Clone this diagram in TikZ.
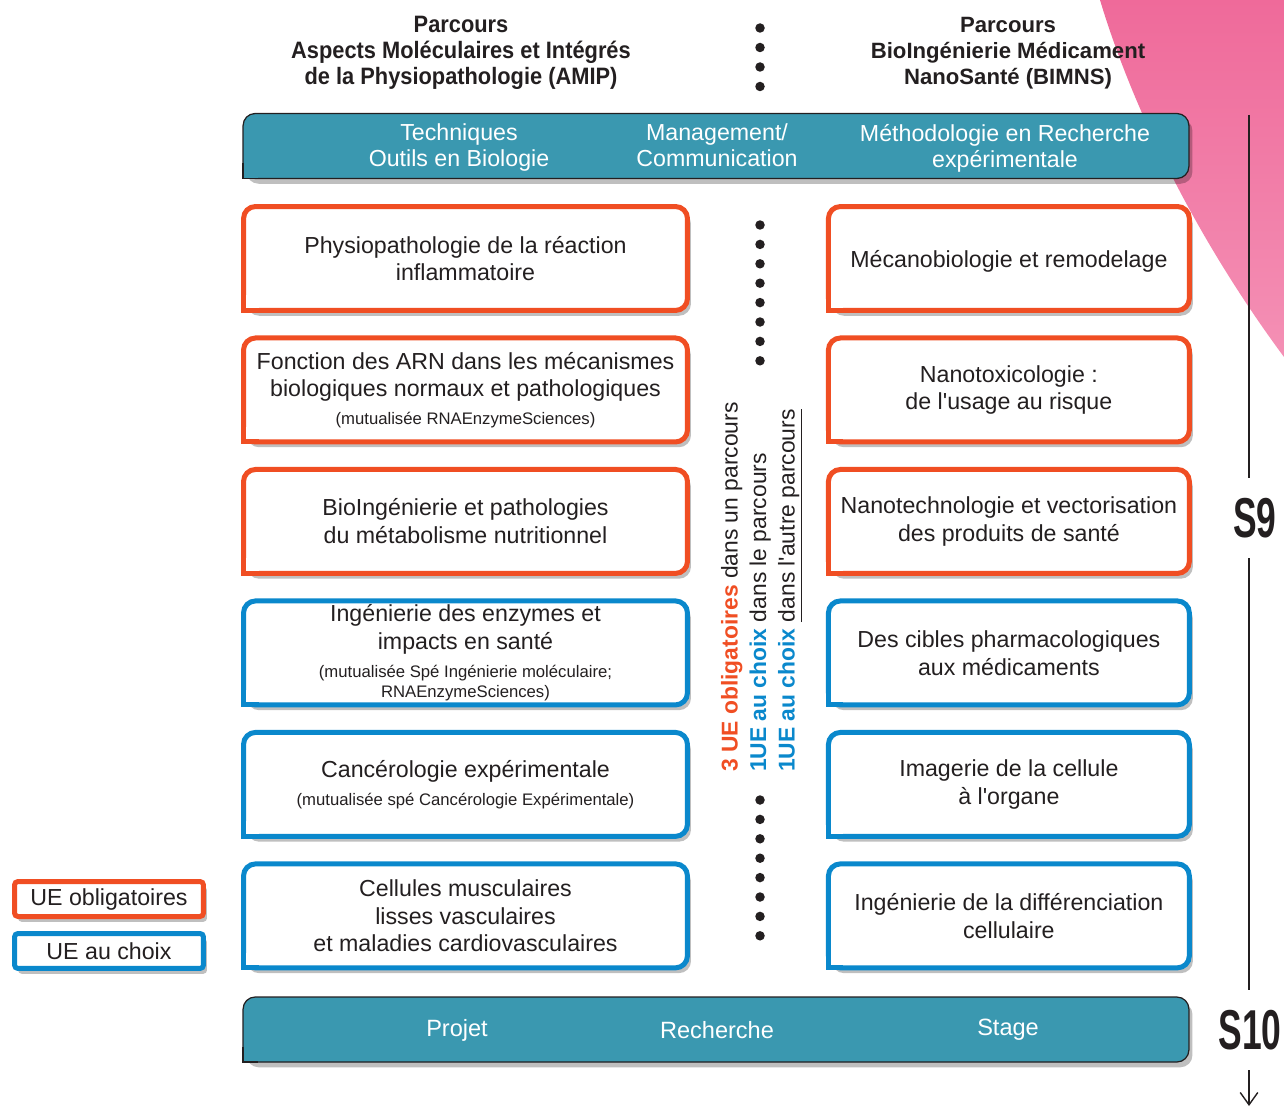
\documentclass[tikz,border=0pt]{standalone}
\usepackage{fontspec}
\setmainfont{Liberation Sans}
\newfontfamily\condfont{Liberation Sans}[FakeStretch=0.63]
\newfontfamily\headfont{Liberation Sans}[FakeStretch=0.92]
\usetikzlibrary{positioning, shadows, arrows.meta}

\definecolor{ueob}{HTML}{F04E23}
\definecolor{uech}{HTML}{0A88CC}
\definecolor{barteal}{HTML}{3A98B0}
\definecolor{inkgrey}{HTML}{231F20}
\definecolor{pinktop}{HTML}{EF6A9A}
\definecolor{pinkbot}{HTML}{F490B5}

\newcommand{\uenote}[1]{{\fontsize{9.5}{11.4}\selectfont #1}}

\begin{document}
\begin{tikzpicture}[x=0.02cm, y=-0.02cm, >={Straight Barb[length=7pt, width=10pt]}, text=inkgrey,
  uebox/.style={draw, fill=white, line width=0.1cm, rounded corners=0.24cm, outer sep=0pt, inner sep=2pt, align=center,
    font=\fontsize{13.2}{15.8}\selectfont, drop shadow={shadow xshift=2pt, shadow yshift=-3pt, fill=black, opacity=0.25}},
  ob/.style={uebox, draw=ueob},
  ch/.style={uebox, draw=uech},
  lbox/.style={minimum width=8.88cm, minimum height=2.08cm},
  rbox/.style={minimum width=7.22cm, minimum height=2.08cm},
  legend/.style={rounded corners=2pt, minimum width=3.78cm, minimum height=0.7cm, inner sep=0pt},
  bar/.style={draw=inkgrey, fill=barteal, line width=0.7pt, rounded corners=0.24cm, outer sep=0pt,
    minimum width=18.92cm, minimum height=1.3cm, drop shadow={shadow xshift=2pt, shadow yshift=-3pt, fill=black, opacity=0.25}},
  bartext/.style={text=white, align=center, font=\fontsize{13.2}{14.8}\selectfont},
  dot/.style={circle, fill=inkgrey, minimum size=0.19cm, inner sep=0pt},
  sem/.style={font=\condfont\bfseries\fontsize{32}{32}\selectfont, minimum height=1.6cm, inner sep=0pt}]

\useasboundingbox (0,0) rectangle (1284,1108);

% background
\shade[top color=pinktop, bottom color=pinkbot] (1100,0) .. controls (1130,100) and (1190,230) .. (1284,357) -- (1284,0) -- cycle;

% parcours
\node[align=center, font=\headfont\bfseries\fontsize{13.5}{14.7}\selectfont] (amip) at (461,53) {Parcours\\Aspects Moléculaires et Intégrés\\de la Physiopathologie (AMIP)};
\node[align=center, font=\bfseries\fontsize{12.6}{14.7}\selectfont] (bimns) at (1008,53) {Parcours\\BioIngénierie Médicament\\NanoSanté (BIMNS)};
\foreach \i in {0,...,3}
  \node[dot] (hd\i) at (760,{28+19.5*\i}) {};

% tronc commun
\node[bar] (topbar) at (716,146) {};
\node[bartext] (tb1) at (459,148) {Techniques\\Outils en Biologie};
\node[bartext] (tb2) at (717,145) {Management/\\Communication};
\node[bartext] (tb3) at (1005,148) {Méthodologie en Recherche\\expérimentale};

% UE AMIP
\node[ob, lbox] (l1) at (465.5,258.5) {Physiopathologie de la réaction\\inflammatoire};
\node[ob, lbox, below=0.55cm of l1] (l2) {Fonction des ARN dans les mécanismes\\biologiques normaux et pathologiques\\\uenote{(mutualisée RNAEnzymeSciences)}};
\node[ob, lbox, below=0.55cm of l2] (l3) {BioIngénierie et pathologies\\du métabolisme nutritionnel};
\node[ch, lbox, below=0.55cm of l3] (l4) {Ingénierie des enzymes et\\impacts en santé\\\uenote{(mutualisée Spé Ingénierie moléculaire;}\\[-4.4pt]\uenote{RNAEnzymeSciences)}};
\node[ch, lbox, below=0.55cm of l4] (l5) {Cancérologie expérimentale\\\uenote{(mutualisée spé Cancérologie Expérimentale)}};
\node[ch, lbox, below=0.55cm of l5] (l6) {Cellules musculaires\\lisses vasculaires\\et maladies cardiovasculaires};

% UE BIMNS
\node[ob, rbox, right=2.82cm of l1, text depth=0pt] (r1) {Mécanobiologie et remodelage};
\node[ob, rbox, right=2.82cm of l2] (r2) {Nanotoxicologie :\\de l\textquotesingle usage au risque};
\node[ob, rbox, right=2.82cm of l3] (r3) {Nanotechnologie et vectorisation\\des produits de santé};
\node[ch, rbox, right=2.82cm of l4] (r4) {Des cibles pharmacologiques\\aux médicaments};
\node[ch, rbox, right=2.82cm of l5] (r5) {Imagerie de la cellule\\à l\textquotesingle organe};
\node[ch, rbox, right=2.82cm of l6] (r6) {Ingénierie de la différenciation\\cellulaire};

% stage
\node[bar] (botbar) at (716,1029.5) {};
\node[bartext, font=\fontsize{13.4}{15}\selectfont] (bb1) at (457,1030) {Projet};
\node[bartext, font=\fontsize{13.4}{15}\selectfont] (bb2) at (717,1030) {Recherche};
\node[bartext, font=\fontsize{13.4}{15}\selectfont] (bb3) at (1008,1030) {Stage};

% legende
\node[ob, legend] (lg1) at (109,899) {UE obligatoires};
\node[ch, legend, below=0.34cm of lg1] (lg2) {UE au choix};

% square corner bottom left
\foreach \n/\c in {l1/ueob, l2/ueob, l3/ueob, l4/uech, l5/uech, l6/uech, r1/ueob, r2/ueob, r3/ueob, r4/uech, r5/uech, r6/uech} {
  \fill[white] (\n.south west) rectangle ([shift={(0.3cm,0.3cm)}]\n.south west);
  \draw[\c, line width=0.1cm] ([yshift=0.3cm]\n.south west) |- ([xshift=0.3cm]\n.south west);
}
\foreach \n in {topbar, botbar} {
  \fill[barteal] (\n.south west) rectangle ([shift={(0.3cm,0.3cm)}]\n.south west);
  \draw[inkgrey, line width=0.7pt] ([yshift=0.3cm]\n.south west) |- ([xshift=0.3cm]\n.south west);
}

% choix
\foreach \i in {0,...,7} {
  \node[dot] (up\i) at (760,{225+19.4*\i}) {};
  \node[dot] (dn\i) at (760,{800+19.4*\i}) {};
}
\node[rotate=90, anchor=west, align=left, font=\fontsize{13}{16.2}\selectfont] (choix) at (762,778)
  {{\color{ueob}\bfseries 3 UE obligatoires} dans un parcours\\
   {\color{uech}\bfseries 1UE au choix} dans le parcours\\
   {\color{uech}\bfseries 1UE au choix} \underline{dans l\textquotesingle autre parcours}};

% semestres
\coordinate (axtop) at (1249,115);
\coordinate (axend) at (1249,1106);
\node[sem] (s9) at (1255,518) {S9};
\node[sem] (s10) at (1250,1030) {S10};
\draw[inkgrey, line width=0.8pt] (axtop) -- (axtop |- s9.north);
\draw[inkgrey, line width=0.8pt] (axtop |- s9.south) -- (axtop |- s10.north);
\draw[->, inkgrey, line width=0.8pt] (axtop |- s10.south) -- (axend);

\end{tikzpicture}
\end{document}
